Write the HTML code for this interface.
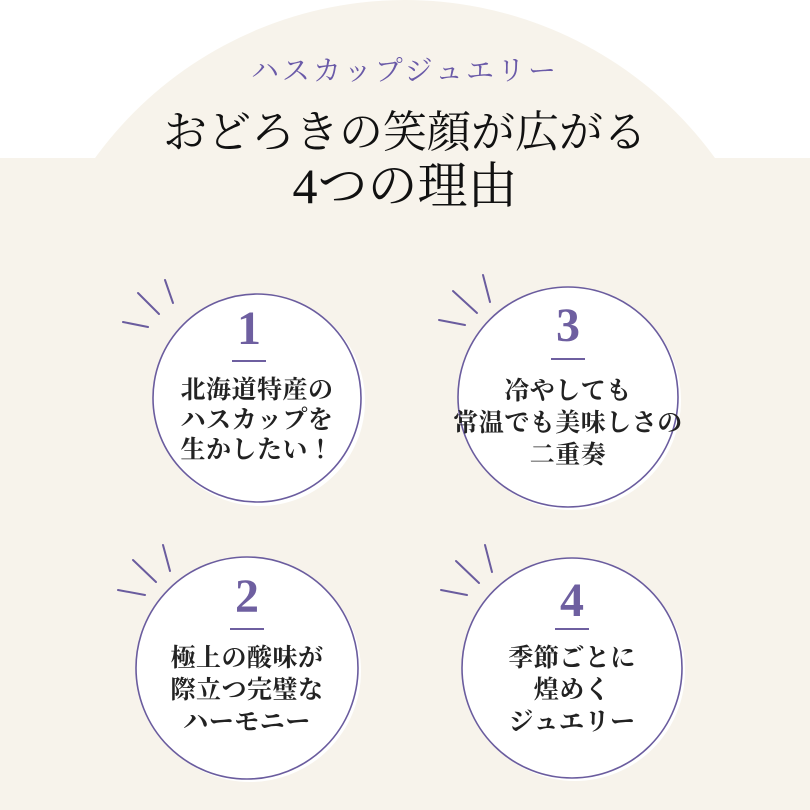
<!DOCTYPE html>
<html><head><meta charset="utf-8"><style>
html,body{margin:0;padding:0;background:#fff}
#w{position:relative;width:810px;height:810px;overflow:hidden;background:#fff}
.t{position:absolute;left:0;width:810px;text-align:center;font-family:"Liberation Serif","Noto Serif CJK JP",serif;white-space:nowrap}
.c{position:absolute;text-align:center;font-family:"Liberation Serif","Noto Serif CJK JP",serif;font-weight:bold;color:#222;font-size:25px;line-height:30px;letter-spacing:0.5px;white-space:nowrap;width:240px}
.n{position:absolute;width:80px;text-align:center;font-family:"Liberation Serif",serif;font-weight:bold;color:#6e5fa0;font-size:48px;line-height:48px}
.u{position:absolute;width:34px;height:2px;background:#6e5fa0}
</style></head><body><div id="w">
<svg width="810" height="810" style="position:absolute;left:0;top:0">
<circle cx="405" cy="383" r="383" fill="#f7f3eb"/>
<rect x="0" y="158" width="810" height="652" fill="#f7f3eb"/>
<g fill="#fff">
<circle cx="260" cy="401" r="105"/><circle cx="571" cy="400" r="110"/>
<circle cx="250" cy="671" r="111"/><circle cx="575" cy="671" r="110"/>
</g>
<g fill="#fff" stroke="#6a5c9e" stroke-width="1.6">
<circle cx="257" cy="398" r="104"/><circle cx="568" cy="397" r="110"/>
<circle cx="247" cy="668" r="111"/><circle cx="572" cy="668" r="110"/>
</g>
<g stroke="#6a5c9e" stroke-width="2" stroke-linecap="round">
<line x1="165" y1="280" x2="173" y2="303"/><line x1="138" y1="293" x2="159" y2="314"/><line x1="123" y1="322" x2="148" y2="327"/>
<line x1="483" y1="275" x2="490" y2="302"/><line x1="453" y1="291" x2="477" y2="313"/><line x1="439" y1="320" x2="465" y2="325"/>
<line x1="163" y1="545" x2="170" y2="571"/><line x1="133" y1="560" x2="156" y2="582"/><line x1="118" y1="590" x2="145" y2="595"/>
<line x1="485" y1="545" x2="492" y2="572"/><line x1="456" y1="561" x2="479" y2="583"/><line x1="441" y1="590" x2="467" y2="595"/>
</g>
</svg>
<div class="t" style="top:55px;font-size:28px;line-height:34px;color:#6a5aa8;letter-spacing:3px">ハスカップジュエリー</div>
<div class="t" style="top:107px;font-size:44px;line-height:52px;color:#111">おどろきの笑顔が広がる</div>
<div class="t" style="top:158px;font-size:50px;line-height:56px;color:#111">4つの理由</div>

<div class="n" style="left:209px;top:305px">1</div>
<div class="u" style="left:232px;top:360px"></div>
<div class="c" style="left:137px;top:376px">北海道特産の<br>ハスカップを<br>生かしたい！</div>

<div class="n" style="left:528px;top:302px">3</div>
<div class="u" style="left:551px;top:358px"></div>
<div class="c" style="left:448px;top:376px;line-height:32px">冷やしても<br>常温でも美味しさの<br>二重奏</div>

<div class="n" style="left:207px;top:573px">2</div>
<div class="u" style="left:230px;top:628px"></div>
<div class="c" style="left:127px;top:643px;line-height:32px">極上の酸味が<br>際立つ完璧な<br>ハーモニー</div>

<div class="n" style="left:532px;top:577px">4</div>
<div class="u" style="left:555px;top:628px"></div>
<div class="c" style="left:452px;top:643px;line-height:32px">季節ごとに<br>煌めく<br>ジュエリー</div>
</div></body></html>
